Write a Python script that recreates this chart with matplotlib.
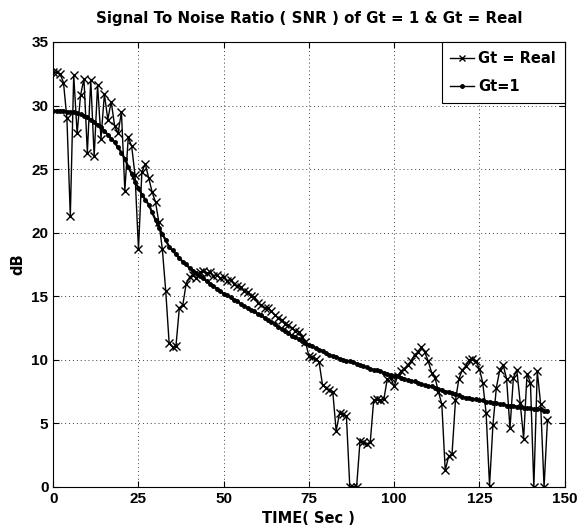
import matplotlib
matplotlib.use("Agg")
import matplotlib.pyplot as plt
from matplotlib.lines import Line2D

# SNR, one sample per second (0..145 s)
time_sec = list(range(0, 146))

snr_real = [
    32.6, 32.6, 32.5, 31.8, 29.0, 21.3, 32.4, 27.8, 30.8, 32.1,
    26.3, 32.0, 26.0, 31.6, 27.4, 30.9, 28.9, 30.3, 28.4, 27.8,
    29.5, 23.3, 27.5, 26.8, 24.5, 18.7, 24.8, 25.4, 24.3, 23.2,
    22.4, 20.8, 18.7, 15.4, 11.3, 11.0, 11.1, 14.1, 14.3, 16.0,
    16.5, 16.7, 16.4, 16.9, 17.0, 16.8, 16.9, 16.6, 16.7, 16.4,
    16.5, 16.2, 16.3, 16.0, 15.8, 15.7, 15.4, 15.3, 15.0, 14.9,
    14.5, 14.3, 14.1, 14.1, 13.8, 13.5, 13.3, 13.1, 12.8, 12.7,
    12.5, 12.3, 12.2, 11.8, 11.4, 10.3, 10.2, 10.1, 9.8, 8.0,
    7.8, 7.6, 7.5, 4.4, 5.8, 5.7, 5.6, 0.0, 0.0, 0.0,
    3.6, 3.5, 3.4, 3.5, 6.8, 6.9, 6.8, 6.9, 8.5, 8.6,
    7.9, 8.7, 9.1, 9.3, 9.6, 9.9, 10.4, 10.6, 11.0, 10.6,
    9.9, 9.0, 8.6, 7.5, 6.5, 1.3, 2.4, 2.6, 6.8, 8.5,
    9.2, 9.5, 10.0, 10.1, 9.9, 9.3, 8.2, 5.8, 0.1, 4.9,
    7.8, 9.2, 9.6, 8.5, 4.6, 8.6, 9.2, 6.6, 3.8, 8.9,
    8.2, 0.0, 9.1, 6.5, 0.0, 5.3,
]

snr_one = [
    29.6, 29.6, 29.6, 29.6, 29.5, 29.5, 29.5, 29.4, 29.3, 29.2,
    29.1, 28.9, 28.7, 28.5, 28.3, 28.0, 27.7, 27.4, 27.1, 26.7,
    26.3, 25.8, 25.2, 24.6, 24.0, 23.5, 23.0, 22.6, 22.2, 21.6,
    21.0, 20.4, 19.9, 19.4, 18.9, 18.6, 18.3, 18.0, 17.7, 17.5,
    17.2, 17.0, 16.8, 16.6, 16.4, 16.2, 16.0, 15.8, 15.6, 15.4,
    15.2, 15.1, 14.9, 14.7, 14.6, 14.4, 14.2, 14.1, 13.9, 13.8,
    13.6, 13.5, 13.3, 13.1, 13.0, 12.8, 12.6, 12.4, 12.3, 12.1,
    11.9, 11.8, 11.6, 11.5, 11.3, 11.2, 11.1, 10.9, 10.8, 10.7,
    10.5, 10.4, 10.3, 10.2, 10.1, 10.0, 9.9, 9.9, 9.8, 9.7,
    9.6, 9.5, 9.4, 9.3, 9.2, 9.2, 9.1, 9.0, 8.9, 8.8,
    8.7, 8.7, 8.6, 8.5, 8.4, 8.3, 8.3, 8.2, 8.1, 8.0,
    7.9, 7.9, 7.8, 7.7, 7.6, 7.5, 7.5, 7.4, 7.3, 7.2,
    7.1, 7.0, 7.0, 6.9, 6.9, 6.8, 6.8, 6.7, 6.7, 6.6,
    6.6, 6.5, 6.5, 6.4, 6.4, 6.4, 6.3, 6.3, 6.2, 6.2,
    6.2, 6.1, 6.1, 6.1, 6.0, 6.0,
]

x_ticks = [0, 25, 50, 75, 100, 125, 150]
y_ticks = [0, 5, 10, 15, 20, 25, 30, 35]

plt.rcParams.update({
    "font.family": ["Liberation Sans", "DejaVu Sans"],
    "font.weight": "bold",
    "font.size": 11,
    "xtick.direction": "in",
    "ytick.direction": "in",
})
# wider face for the words, like MATLAB's screen Helvetica
WORD_FONT = "DejaVu Sans"

fig = plt.figure(figsize=(5.79, 5.31), dpi=100)
ax = fig.add_axes([0.092, 0.083, 0.883, 0.838])

ax.plot(time_sec, snr_real, color="black", linewidth=1.0, marker="x",
        markersize=6, markeredgewidth=1.0)
ax.plot(time_sec, snr_one, color="black", linewidth=1.6, marker=".",
        markersize=5)

ax.set_xlim(0, 150)
ax.set_ylim(0, 35)
ax.set_xticks(x_ticks)
ax.set_yticks(y_ticks)
ax.grid(True, linestyle=(0, (1, 3)), color="#404040", linewidth=0.7)
ax.tick_params(top=True, right=True, length=4, width=0.8, labelsize=11)
for lbl in ax.get_xticklabels() + ax.get_yticklabels():
    lbl.set_fontweight("bold")

ax.set_xlabel("TIME( Sec )", fontsize=10.5, fontweight="bold",
              family=WORD_FONT, labelpad=4)
ax.set_ylabel("dB", fontsize=10.5, fontweight="bold", family=WORD_FONT,
              labelpad=4)
ax.set_title("Signal To Noise Ratio ( SNR ) of Gt = 1 & Gt = Real",
             fontsize=10.8, fontweight="bold", family=WORD_FONT, pad=14)

handles = [
    Line2D([], [], color="black", linewidth=1.0, marker="x", markersize=5),
    Line2D([], [], color="black", linewidth=1.0, marker=".", markersize=5),
]
leg = ax.legend(handles, ["Gt = Real", "Gt=1"], loc="upper right",
                fancybox=False, edgecolor="black", framealpha=1.0,
                handlelength=1.6, handletextpad=0.3, borderaxespad=0.0,
                borderpad=0.6, labelspacing=0.9,
                prop={"family": WORD_FONT, "weight": "bold", "size": 10.5})
leg.get_frame().set_linewidth(0.8)

fig.savefig("out.png", dpi=100)
